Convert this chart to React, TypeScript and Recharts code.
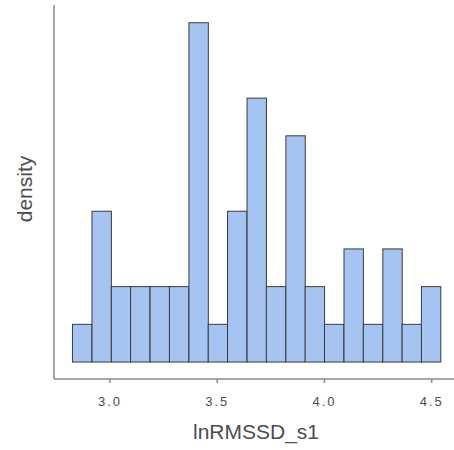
import React from "react";
import { ComposedChart, Bar, XAxis, YAxis } from "recharts";

// bin centres of lnRMSSD_s1 histogram (bin width ≈ 0.0904)
const binCenters = [2.871, 2.962, 3.052, 3.142, 3.233, 3.323, 3.414, 3.504, 3.594, 3.685, 3.775, 3.866, 3.956, 4.046, 4.137, 4.227, 4.318, 4.408, 4.498];
const counts = [1, 4, 2, 2, 2, 2, 9, 1, 4, 7, 2, 6, 2, 1, 3, 1, 3, 1, 2];
const xTicks = [3.0, 3.5, 4.0, 4.5];
const binWidth = 0.0904;

const data = binCenters.map((c, i) => ({ mid: c, count: counts[i] }));

const W = 454;
const H = 450;
const LEFT = 54;
const X_DOMAIN: [number, number] = [2.739, 4.604];
const Y_DOMAIN: [number, number] = [-0.45, 9.47];
const FONT = "'Liberation Sans', Arial, sans-serif";

export default function App() {
  const plotW = W - LEFT;
  const barSize = (plotW * binWidth) / (X_DOMAIN[1] - X_DOMAIN[0]);
  const shape = (p: any) => {
    const cx = p.x + p.width / 2;
    return (
      <rect
        x={cx - barSize / 2}
        y={p.y}
        width={barSize}
        height={p.height}
        fill="#a6c4f1"
        stroke="#3a3a3a"
        strokeWidth={1}
      />
    );
  };
  return (
    <div style={{ position: "absolute", left: 0, top: 0, background: "#fff" }}>
      <ComposedChart
        width={W}
        height={H}
        data={data}
        margin={{ top: 5, right: 0, bottom: 0, left: 0 }}
        barCategoryGap={0}
        barGap={0}
      >
        <XAxis
          dataKey="mid"
          type="number"
          domain={X_DOMAIN}
          allowDataOverflow
          ticks={xTicks}
          tickFormatter={(v: number) => v.toFixed(1)}
          height={71}
          stroke="#8a8a8a"
          strokeWidth={1.5}
          tickSize={4}
          tickMargin={14}
          tick={{ fill: "#4d4d4d", fontSize: 13, fontFamily: FONT, letterSpacing: 2 }}
          label={{
            content: (props: any) => {
              const vb = props.viewBox;
              return (
                <text x={vb.x + vb.width / 2 + 2} y={439} textAnchor="middle" fill="#4d4d4d" fontSize={21} fontFamily={FONT}>
                  lnRMSSD_s1
                </text>
              );
            },
          }}
        />
        <YAxis
          type="number"
          domain={Y_DOMAIN}
          allowDataOverflow
          width={LEFT}
          tick={false}
          tickLine={false}
          stroke="#8a8a8a"
          strokeWidth={1.5}
          label={{
            content: (props: any) => {
              const vb = props.viewBox;
              const cx = 32;
              const cy = vb.y + vb.height / 2 - 3;
              return (
                <text x={cx} y={cy} textAnchor="middle" fill="#4d4d4d" fontSize={21} fontFamily={FONT} transform={`rotate(-90, ${cx}, ${cy})`}>
                  density
                </text>
              );
            },
          }}
        />
        <Bar
          dataKey="count"
          fill="#a6c4f1"
          stroke="#3a3a3a"
          strokeWidth={1}
          shape={shape}
          isAnimationActive={false}
        />
      </ComposedChart>
    </div>
  );
}
